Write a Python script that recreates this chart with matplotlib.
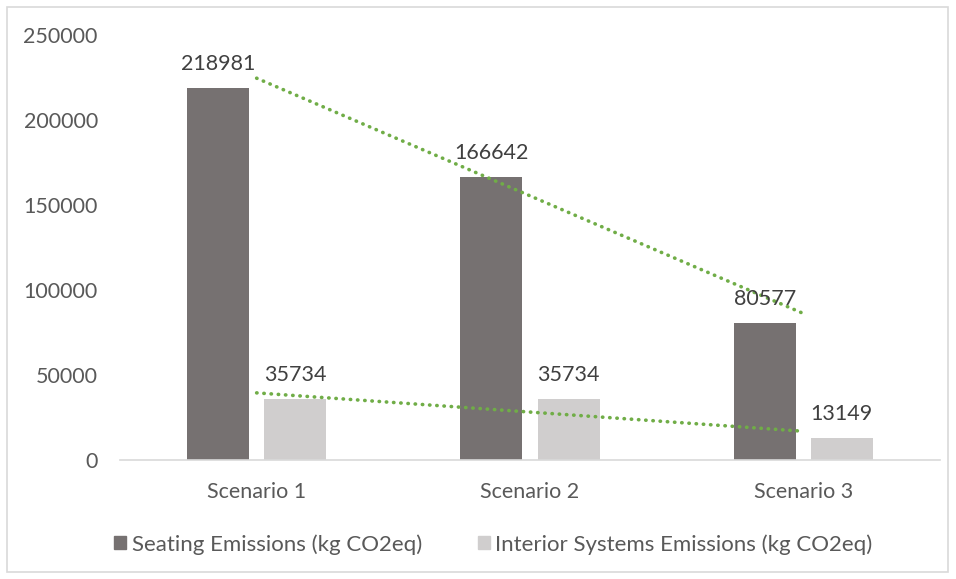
import numpy as np
import matplotlib.pyplot as plt
from matplotlib.patches import Rectangle

scenarios = ['Scenario 1', 'Scenario 2', 'Scenario 3']
seating = [218981, 166642, 80577]
interior = [35734, 35734, 13149]
series_names = ['Seating Emissions (kg CO2eq)', 'Interior Systems Emissions (kg CO2eq)']
yticks = [0, 50000, 100000, 150000, 200000, 250000]

dark = '#767171'
light = '#D0CECE'
trend = '#70AD47'
textcol = '#595959'

plt.rcParams['font.family'] = ['Lato', 'DejaVu Sans']

fig = plt.figure(figsize=(9.56, 5.79), dpi=100)
ax = fig.add_axes([0.1255, 0.2055, 0.8578, 0.734])

x = np.arange(len(scenarios))
w = 0.227
off = 0.141
b1 = ax.bar(x - off, seating, w, color=dark)
b2 = ax.bar(x + off, interior, w, color=light)

# value labels above each bar
for bars, vals in ((b1, seating), (b2, interior)):
    for rect, v in zip(bars, vals):
        ax.annotate(str(v), (rect.get_x() + rect.get_width() / 2, v),
                    xytext=(0, 10), textcoords='offset points',
                    ha='center', va='bottom', fontsize=15.5, color='#404040')

# linear trendlines through category centres
for vals in (seating, interior):
    k, c = np.polyfit(x + 1, vals, 1)
    ax.plot(x, k * (x + 1) + c, color=trend, lw=2.6, ls=(0, (0.1, 1.9)),
            dash_capstyle='round')

ax.set_xlim(-0.5, 2.5)
ax.set_ylim(0, 250000)
ax.set_yticks(yticks)
ax.set_yticklabels([str(t) for t in yticks])
ax.set_xticks(x)
ax.set_xticklabels(scenarios)
ax.tick_params(axis='both', length=0, labelsize=15.5, colors=textcol)
ax.tick_params(axis='x', pad=16)
ax.tick_params(axis='y', pad=16)
for s in ('top', 'right', 'left'):
    ax.spines[s].set_visible(False)
ax.spines['bottom'].set_color('#D9D9D9')
ax.spines['bottom'].set_linewidth(1.2)

handles = [Rectangle((0, 0), 1, 1, color=dark), Rectangle((0, 0), 1, 1, color=light)]
fig.legend(handles, series_names, loc='center', bbox_to_anchor=(0.516, 0.06),
           ncol=2, frameon=False, fontsize=16, labelcolor=textcol,
           handlelength=0.55, handleheight=0.55, handletextpad=0.25, columnspacing=2.5)

# chart area border
fig.patches.append(Rectangle((7 / 956, 7 / 579), 941 / 956, 565 / 579,
                             transform=fig.transFigure, fill=False,
                             edgecolor='#D9D9D9', lw=1.2))

fig.savefig('out.png', dpi=100)
